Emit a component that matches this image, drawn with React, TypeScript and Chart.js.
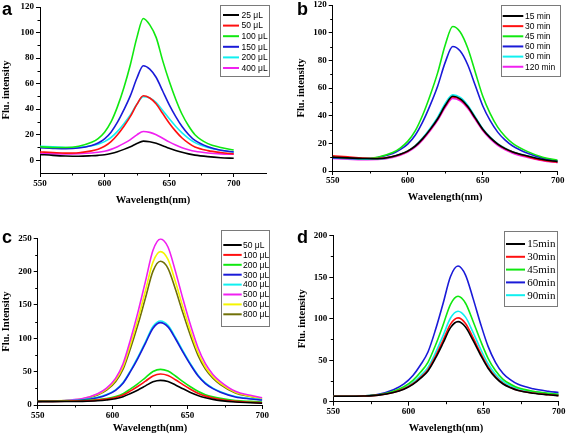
import React, { useEffect, useRef } from "react";
import { Chart, registerables } from "chart.js";

Chart.register(...registerables);

// ---------- Panel a ----------
const wavelengthA = [550, 560, 570, 580, 590, 595, 600, 605, 610, 615, 620, 625, 630, 635, 640, 645, 650, 655, 660, 665, 670, 680, 690, 700];
const labelsA = ["25 μL", "50 μL", "100 μL", "150 μL", "200 μL", "400 μL"];
const a25 = [4.5, 3.8, 3.3, 3.1, 3.5, 3.8, 4.3, 5.3, 6.7, 8.5, 10.6, 13.1, 15, 14.5, 13.3, 11.4, 9.4, 7.7, 6.2, 5.0, 4.0, 2.8, 2.0, 1.5];
const a50 = [6.5, 6, 5.6, 5.9, 7.3, 8.6, 10.9, 14.5, 19.9, 26.6, 34.3, 43.7, 50.5, 48.7, 44.0, 36.6, 29.2, 22.8, 17.4, 13.4, 10.3, 7.5, 6, 5];
const a100 = [10.5, 10, 10, 11, 14, 17, 22, 30, 42, 57, 75, 96, 111, 106, 96, 78, 62, 48, 36, 27, 20, 13, 10, 8];
const a150 = [9.8, 9.3, 9, 9.6, 11.6, 13.5, 16.8, 22, 29.8, 39.6, 50.6, 64.2, 74, 71.4, 64.8, 54.2, 43.6, 34.4, 26.4, 20.2, 15.5, 10.5, 7.8, 6.5];
const a200 = [11, 10.5, 10, 10.2, 11.4, 12.6, 14.6, 17.8, 22.6, 28.6, 35.4, 43.8, 49.8, 48.8, 45.2, 39, 32.6, 26.6, 21.4, 17.2, 13.8, 10, 7.8, 6.5];
const a400 = [5.2, 5, 5, 5.2, 5.7, 6.2, 7.1, 8.5, 10.6, 13.2, 16.2, 19.9, 22.5, 21.8, 20, 17.2, 14.4, 11.9, 9.8, 8.2, 7, 5.7, 5, 4.7];
const xTicksA = [550, 600, 650, 700];
const yTicksA = [0, 20, 40, 60, 80, 100, 120];

// ---------- Panel b ----------
const wavelengthB = [550, 560, 570, 580, 590, 595, 600, 605, 610, 615, 620, 625, 630, 635, 640, 645, 650, 655, 660, 665, 670, 680, 690, 700];
const labelsB = ["15 min", "30 min", "45 min", "60 min", "90 min", "120 min"];
const b15 = [10, 9.5, 9, 8.9, 10.5, 12.1, 14.4, 18, 23.4, 30.1, 37.8, 47.3, 54, 52.1, 46.6, 38.4, 30.2, 24.1, 19.5, 16.2, 13.8, 10.8, 8.3, 6.8];
const b30 = [11, 10.2, 9.4, 9.0, 10.4, 12, 14.3, 17.9, 23.2, 29.9, 37.5, 46.9, 53.5, 51.7, 46.2, 38.1, 30, 24, 19.4, 16.1, 13.7, 10.4, 7.8, 6.3];
const b45 = [10, 9.5, 9, 10, 13.3, 16.6, 21.4, 29, 40.5, 54.8, 71.1, 91.1, 104.5, 100.5, 88.9, 71.6, 54.2, 41.5, 31.7, 24.9, 20, 14, 10, 7.8];
const b60 = [9.5, 9.2, 9, 9.8, 12.6, 15.4, 19.4, 25.8, 35.5, 47.6, 61.5, 78.5, 90, 86.7, 76.8, 62.0, 47.2, 36.4, 28.1, 22.3, 18.1, 12.8, 9.3, 7.3];
const b90 = [9.5, 9, 8.6, 8.7, 10.4, 12.1, 14.5, 18.3, 24, 31, 39, 48.8, 55, 53.2, 47.6, 39.2, 30.7, 24.5, 19.8, 16.5, 14, 10.9, 8.4, 6.9];
const b120 = [9, 8.6, 8.2, 8.3, 9.8, 11.4, 13.7, 17.2, 22.5, 29.1, 36.6, 45.8, 52.5, 50.7, 45.3, 37.3, 29.2, 23.2, 18.6, 15.3, 12.9, 9.8, 7.5, 6];
const xTicksB = [550, 600, 650, 700];
const yTicksB = [0, 20, 40, 60, 80, 100, 120];

// ---------- Panel c ----------
const wavelengthC = [550, 560, 570, 580, 590, 596, 602, 607, 612, 617, 622, 627, 632, 637, 642, 647, 652, 657, 662, 667, 672, 682, 692, 700];
const labelsC = ["50 μL", "100 μL", "200 μL", "300 μL", "400 μL", "500 μL", "600 μL", "800 μL"];
const c50 = [5, 5, 5.2, 5.5, 6.4, 7.6, 9.5, 12.4, 17.2, 22.6, 28.7, 34.8, 37, 35.1, 30.1, 24.4, 18.9, 14.2, 10.8, 8.4, 6.6, 4.4, 3.4, 2.6];
const c100 = [5.5, 5.5, 5.7, 6.1, 7.3, 8.8, 11.2, 14.9, 21.1, 28.1, 35.8, 43.6, 46.5, 44.2, 37.8, 30.5, 23.7, 17.6, 13.3, 10.4, 8.2, 5.5, 4.2, 3.3];
const c200 = [6, 6, 6.2, 6.7, 8.1, 9.8, 12.7, 16.9, 24.1, 32.1, 41.2, 50.2, 53.5, 50.9, 43.5, 35.2, 27.4, 20.6, 15.5, 12.2, 9.9, 6.8, 5.4, 4.5];
const c300 = [5.5, 5.6, 6.1, 7.3, 10.8, 14.9, 22, 32.6, 50.3, 70.4, 92.8, 115.2, 123.5, 117.1, 99.4, 79.3, 60.5, 43.9, 32.1, 24.5, 19.2, 12.1, 9.1, 7.4];
const c400 = [6, 6.1, 6.6, 7.8, 11.4, 15.6, 22.8, 33.6, 51.6, 72, 94.8, 117.6, 126, 119.5, 101.5, 81.1, 61.9, 45.1, 33.1, 25.3, 19.9, 12.7, 9.7, 7.9];
const c500 = [6, 6.2, 7.2, 9.6, 16.9, 25.4, 40, 61.9, 98.3, 139.7, 185.8, 232, 249, 236.9, 200.4, 159.1, 120.2, 86.2, 61.9, 45.9, 35.2, 20.6, 14.5, 10.9];
const c600 = [6, 6.2, 7.1, 9.4, 16.1, 23.9, 37.4, 57.5, 91.1, 129.2, 171.8, 214.3, 230, 218.3, 184.7, 146.6, 110.8, 79.4, 57, 42.5, 32.4, 19, 13.3, 10];
const c800 = [5.5, 5.7, 6.6, 8.7, 15, 22.3, 34.9, 53.8, 85.3, 121, 160.9, 200.8, 215.5, 205, 173.5, 137.8, 104.2, 74.8, 53.8, 40.2, 30.7, 18.1, 12.9, 9.7];
const xTicksC = [550, 600, 650, 700];
const yTicksC = [0, 50, 100, 150, 200, 250];

// ---------- Panel d ----------
const wavelengthD = [550, 560, 570, 580, 590, 597, 603, 608, 613, 618, 623, 628, 633, 638, 643, 648, 653, 658, 663, 668, 673, 683, 693, 700];
const labelsD = ["15min", "30min", "45min", "60min", "90min"];
const d15 = [6.5, 6.5, 6.8, 7.9, 11, 15.1, 20.9, 28.1, 37.1, 52.4, 70.4, 89.3, 96.5, 90.1, 73.8, 56.2, 40.3, 29, 21.3, 16.7, 13.4, 10.2, 8.3, 7.3];
const d30 = [6.5, 6.5, 6.8, 7.9, 11.2, 15.5, 21.6, 29.2, 38.6, 54.7, 73.6, 93.4, 101, 94.3, 77.2, 58.6, 42, 30.1, 22, 17.2, 13.8, 10.4, 8.4, 7.4];
const d45 = [6.5, 6.5, 6.9, 8.3, 12.5, 18, 25.8, 35.4, 47.5, 68, 92.1, 117.4, 127, 118.6, 96.9, 73.4, 52.3, 37.2, 27, 21, 16.7, 12.5, 10.1, 8.9];
const d60 = [6.5, 6.5, 7, 8.9, 14.4, 21.4, 31.6, 44.2, 59.9, 86.6, 118, 150.9, 163.5, 152.6, 124.5, 94, 66.7, 47.2, 34, 26.3, 20.9, 15.6, 12.6, 11.1];
const d90 = [6.5, 6.5, 6.8, 8, 11.6, 16.2, 22.9, 31.1, 41.4, 58.8, 79.3, 100.8, 109, 101.9, 83.6, 63.6, 45.7, 32.9, 24.2, 19.2, 15.6, 12, 10.1, 9];
const xTicksD = [550, 600, 650, 700];
const yTicksD = [0, 50, 100, 150, 200];

// ---------- colours ----------
const BLACK = "#000000";
const RED = "#ff1010";
const GREEN = "#10e810";
const BLUE = "#1a1ad8";
const CYAN = "#10f0f0";
const MAGENTA = "#f020f0";
const YELLOW = "#f5f500";
const OLIVE = "#707008";

const SERIF = "'Liberation Serif', 'Times New Roman', serif";
const SANS = "'Liberation Sans', Arial, sans-serif";

const minorTicksPlugin = {
  id: "minorTicks",
  afterDraw(chart: any, _args: any, opts: any) {
    if (!opts || !opts.x) return;
    const ctx = chart.ctx;
    const area = chart.chartArea;
    const xs = chart.scales.x;
    const ys = chart.scales.y;
    const mx = xs.ticks.map((t: any) => t.value);
    const my = ys.ticks.map((t: any) => t.value);
    ctx.save();
    ctx.strokeStyle = "#000";
    ctx.lineWidth = 1;
    ctx.beginPath();
    for (let v = Math.ceil(xs.min / opts.x) * opts.x; v < xs.max - 1e-6; v += opts.x) {
      if (v <= xs.min + 1e-6) continue;
      if (mx.some((m: number) => Math.abs(m - v) < 1e-6)) continue;
      const px = Math.round(xs.getPixelForValue(v)) + 0.5;
      ctx.moveTo(px, area.bottom);
      ctx.lineTo(px, area.bottom + 2.5);
    }
    for (let v = Math.ceil(ys.min / opts.y) * opts.y; v < ys.max - 1e-6; v += opts.y) {
      if (v <= ys.min + 1e-6) continue;
      if (my.some((m: number) => Math.abs(m - v) < 1e-6)) continue;
      const py = Math.round(ys.getPixelForValue(v)) + 0.5;
      ctx.moveTo(area.left - 2.5, py);
      ctx.lineTo(area.left, py);
    }
    ctx.stroke();
    ctx.restore();
  },
};

const boxLegendPlugin = {
  id: "boxLegend",
  afterDraw(chart: any, _args: any, opts: any) {
    if (!opts || !opts.w) return;
    const ctx = chart.ctx;
    ctx.save();
    ctx.fillStyle = "#ffffff";
    ctx.fillRect(opts.x, opts.y, opts.w, opts.h);
    ctx.strokeStyle = "#7a7a7a";
    ctx.lineWidth = 1;
    ctx.strokeRect(Math.round(opts.x) + 0.5, Math.round(opts.y) + 0.5, Math.round(opts.w), Math.round(opts.h));
    chart.data.datasets.forEach((ds: any, i: number) => {
      const yy = opts.rowY + i * opts.rowStep;
      ctx.strokeStyle = ds.borderColor;
      ctx.lineWidth = 2;
      ctx.beginPath();
      ctx.moveTo(opts.lineX0, yy);
      ctx.lineTo(opts.lineX1, yy);
      ctx.stroke();
      ctx.fillStyle = "#000";
      ctx.font = opts.textFont;
      ctx.textBaseline = "middle";
      ctx.textAlign = "left";
      ctx.fillText(ds.label, opts.textX, yy + 0.5);
    });
    ctx.restore();
  },
};

type Cfg = {
  left: number; top: number; width: number; height: number;
  letter: string; letterTop: number;
  xs: number[]; series: number[][]; labels: string[]; colors: string[];
  xMin: number; xMax: number; xTicks: number[];
  yMin: number; yMax: number; yTicks: number[];
  xMinor: number; yMinor: number;
  yTitle: string;
  area: { left: number; right: number; top: number; bottom: number };
  xTitlePad: number; yTitlePad: number; xTickPad: number;
  legend: any;
};

const panels: Cfg[] = [
  {
    left: 0, top: 0, width: 283, height: 218, letter: "a", letterTop: 0,
    xs: wavelengthA, series: [a25, a50, a100, a150, a200, a400], labels: labelsA,
    colors: [BLACK, RED, GREEN, BLUE, CYAN, MAGENTA],
    xMin: 550, xMax: 725, xTicks: xTicksA, yMin: -10, yMax: 120, yTicks: yTicksA,
    xMinor: 25, yMinor: 10, yTitle: "Flu. intensity",
    area: { left: 40, right: 266, top: 7, bottom: 173 },
    xTitlePad: 11.7, yTitlePad: 0, xTickPad: 1.5,
    legend: { x: 220, y: 5, w: 49, h: 71, rowY: 15, rowStep: 10.6, lineX0: 223, lineX1: 239, textX: 241.5, textFont: `8.5px ${SANS}` },
  },
  {
    left: 283, top: 0, width: 284, height: 218, letter: "b", letterTop: 0,
    xs: wavelengthB, series: [b15, b30, b45, b60, b90, b120], labels: labelsB,
    colors: [BLACK, RED, GREEN, BLUE, CYAN, MAGENTA],
    xMin: 550, xMax: 700, xTicks: xTicksB, yMin: 0, yMax: 120, yTicks: yTicksB,
    xMinor: 25, yMinor: 10, yTitle: "Flu. intensity",
    area: { left: 49.7, right: 274.7, top: 5, bottom: 171 },
    xTitlePad: 14.4, yTitlePad: 12.4, xTickPad: 0,
    legend: { x: 217.7, y: 5, w: 59.3, h: 71, rowY: 16, rowStep: 10.15, lineX0: 219.7, lineX1: 240.3, textX: 242, textFont: `8.5px ${SANS}` },
  },
  {
    left: 0, top: 218, width: 283, height: 219, letter: "c", letterTop: 228,
    xs: wavelengthC, series: [c50, c100, c200, c300, c400, c500, c600, c800], labels: labelsC,
    colors: [BLACK, RED, GREEN, BLUE, CYAN, MAGENTA, YELLOW, OLIVE],
    xMin: 550, xMax: 700, xTicks: xTicksC, yMin: 0, yMax: 250, yTicks: yTicksC,
    xMinor: 25, yMinor: 25, yTitle: "Flu. Intensity",
    area: { left: 37.7, right: 262.3, top: 20.3, bottom: 187 },
    xTitlePad: 2.4, yTitlePad: 0, xTickPad: 1.5,
    legend: { x: 221, y: 12, w: 48, h: 96, rowY: 27, rowStep: 9.9, lineX0: 223.3, lineX1: 241.7, textX: 243, textFont: `8.5px ${SANS}` },
  },
  {
    left: 283, top: 218, width: 284, height: 219, letter: "d", letterTop: 228,
    xs: wavelengthD, series: [d15, d30, d45, d60, d90], labels: labelsD,
    colors: [BLACK, RED, GREEN, BLUE, CYAN],
    xMin: 550, xMax: 700, xTicks: xTicksD, yMin: 0, yMax: 200, yTicks: yTicksD,
    xMinor: 25, yMinor: 25, yTitle: "Flu. intensity",
    area: { left: 50.3, right: 275.7, top: 17.7, bottom: 183.7 },
    xTitlePad: 2.4, yTitlePad: 13.2, xTickPad: 0.5,
    legend: { x: 221.3, y: 13, w: 52.7, h: 74.7, rowY: 26, rowStep: 12.8, lineX0: 223, lineX1: 242, textX: 244.3, textFont: `11px ${SERIF}` },
  },
];

function Panel({ cfg }: { cfg: Cfg }) {
  const ref = useRef<HTMLCanvasElement>(null);
  useEffect(() => {
    const canvas = ref.current!;
    const a = cfg.area;
    const tickFont = { family: SERIF, weight: "bold" as const, size: 9 };
    const titleFont = { family: SERIF, weight: "bold" as const, size: 10.5 };
    const chart = new Chart(canvas, {
      type: "line",
      data: {
        datasets: cfg.series.map((ys, i) => ({
          label: cfg.labels[i],
          data: cfg.xs.map((x, j) => ({ x, y: ys[j] })),
          borderColor: cfg.colors[i],
          backgroundColor: cfg.colors[i],
          borderWidth: 1.6,
          pointRadius: 0,
          cubicInterpolationMode: "monotone" as const,
          fill: false,
        })),
      },
      options: {
        responsive: false,
        animation: false,
        events: [],
        layout: { padding: { left: 0, top: a.top, right: cfg.width - a.right, bottom: 0 } },
        plugins: {
          legend: { display: false },
          tooltip: { enabled: false },
          boxLegend: cfg.legend,
          minorTicks: { x: cfg.xMinor, y: cfg.yMinor },
        } as any,
        scales: {
          x: {
            type: "linear",
            position: "bottom",
            min: cfg.xMin,
            max: cfg.xMax,
            afterBuildTicks: (s: any) => { s.ticks = cfg.xTicks.map((v) => ({ value: v })); },
            afterFit: (s: any) => {
              s.height = cfg.height - a.bottom;
              s.paddingLeft = 0; s.paddingRight = 0; s.paddingTop = 0; s.paddingBottom = 0;
            },
            grid: { display: true, drawOnChartArea: false, drawTicks: true, tickLength: 4, color: "#000", tickColor: "#000", lineWidth: 1 },
            border: { display: true, color: "#000", width: 1 },
            ticks: { color: "#000", font: tickFont, padding: cfg.xTickPad, maxRotation: 0, autoSkip: false },
            title: { display: true, text: "Wavelength(nm)", color: "#000", font: titleFont, padding: { top: 0, bottom: cfg.xTitlePad } },
          },
          y: {
            type: "linear",
            position: "left",
            min: cfg.yMin,
            max: cfg.yMax,
            afterBuildTicks: (s: any) => { s.ticks = cfg.yTicks.map((v) => ({ value: v })); },
            afterFit: (s: any) => {
              s.width = a.left;
              s.paddingLeft = 0; s.paddingRight = 0; s.paddingTop = 0; s.paddingBottom = 0;
            },
            grid: { display: true, drawOnChartArea: false, drawTicks: true, tickLength: 4, color: "#000", tickColor: "#000", lineWidth: 1 },
            border: { display: true, color: "#000", width: 1 },
            ticks: { color: "#000", font: tickFont, padding: 2, autoSkip: false },
            title: { display: true, text: cfg.yTitle, color: "#000", font: titleFont, padding: { top: cfg.yTitlePad, bottom: 0 } },
          },
        },
      } as any,
      plugins: [boxLegendPlugin, minorTicksPlugin],
    });
    return () => chart.destroy();
  }, [cfg]);

  return (
    <canvas
      ref={ref}
      width={cfg.width}
      height={cfg.height}
      style={{ position: "absolute", left: cfg.left, top: cfg.top, width: cfg.width, height: cfg.height }}
    />
  );
}

export default function App() {
  return (
    <div style={{ position: "absolute", left: 0, top: 0, width: 567, height: 437, background: "#fff", overflow: "hidden" }}>
      {panels.map((p) => (
        <Panel key={p.letter} cfg={p} />
      ))}
      {panels.map((p) => (
        <div
          key={"l" + p.letter}
          style={{
            position: "absolute",
            left: p.left === 0 ? 2 : 297,
            top: p.letterTop,
            font: `bold 18px ${SANS}`,
            lineHeight: "18px",
            color: "#000",
          }}
        >
          {p.letter}
        </div>
      ))}
    </div>
  );
}
